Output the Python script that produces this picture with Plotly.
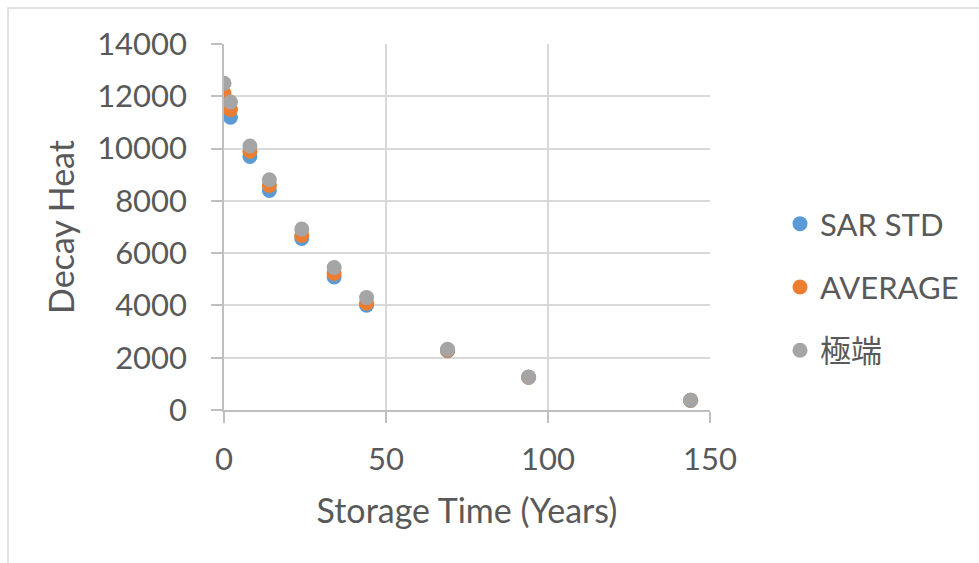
import plotly.graph_objects as go

years = [0, 2, 8, 14, 24, 34, 44, 69, 94, 144]
sar_std = [11820, 11200, 9700, 8400, 6560, 5090, 4010, 2270, 1250, 370]
average = [12100, 11490, 9900, 8590, 6680, 5220, 4090, 2290, 1255, 372]
extreme = [12500, 11780, 10100, 8810, 6920, 5450, 4300, 2324, 1265, 375]

series_names = ["SAR STD", "AVERAGE", "極端"]
series_colors = ["#5B9BD5", "#ED7D31", "#A5A5A5"]

FONT = "Lato, 'Noto Sans CJK JP', sans-serif"
TXT = "#595959"

fig = go.Figure()
for i, (name, vals, col) in enumerate(zip(series_names, [sar_std, average, extreme], series_colors)):
    fig.add_trace(go.Scatter(
        x=years, y=vals, mode="markers", name=name, legendgroup=f"g{i}",
        marker=dict(color=col, size=15, line=dict(width=0)),
    ))

L, R, T, B = 224, 269, 44, 153
W, H = 979, 563
pw, ph = W - L - R, H - T - B

fig.update_layout(
    width=W, height=H,
    margin=dict(l=L, r=R, t=T, b=B),
    paper_bgcolor="white", plot_bgcolor="white",
    font=dict(family=FONT, size=31, color=TXT),
    showlegend=True,
    legend=dict(
        x=(780 - L) / pw, xanchor="left",
        y=(H - B - 287) / ph, yanchor="middle",
        font=dict(family=FONT, size=31, color=TXT),
        tracegroupgap=20, itemwidth=30,
        bgcolor="rgba(0,0,0,0)",
    ),
    xaxis=dict(
        range=[0, 150], dtick=50, tick0=0,
        showgrid=True, gridcolor="#D9D9D9", gridwidth=1.5,
        zeroline=False, showline=True, linecolor="#BFBFBF", linewidth=1.5,
        ticks="outside", ticklen=11, tickcolor="#BFBFBF", tickwidth=1.5,
        ticklabelstandoff=10,
        tickfont=dict(family=FONT, size=31, color=TXT),
        title=dict(text="Storage Time (Years)", font=dict(family=FONT, size=34, color=TXT), standoff=23),
        fixedrange=True,
    ),
    yaxis=dict(
        range=[0, 14000], dtick=2000, tick0=0, tickformat="d",
        showgrid=True, gridcolor="#D9D9D9", gridwidth=1.5,
        zeroline=False, showline=True, linecolor="#BFBFBF", linewidth=1.5,
        ticks="outside", ticklen=11, tickcolor="#BFBFBF", tickwidth=1.5,
        ticklabelstandoff=18,
        tickfont=dict(family=FONT, size=31, color=TXT),
        title=dict(text="Decay Heat", font=dict(family=FONT, size=34, color=TXT), standoff=12),
        fixedrange=True,
    ),
    shapes=[dict(
        type="rect", xref="paper", yref="paper",
        x0=(8 - L) / pw, x1=(W + 20 - L) / pw,
        y0=(H - B - (H + 20)) / ph, y1=(H - B - 8) / ph,
        line=dict(color="#D9D9D9", width=1.5), fillcolor="rgba(0,0,0,0)", layer="below",
    )],
)

fig.write_html("out.html")
